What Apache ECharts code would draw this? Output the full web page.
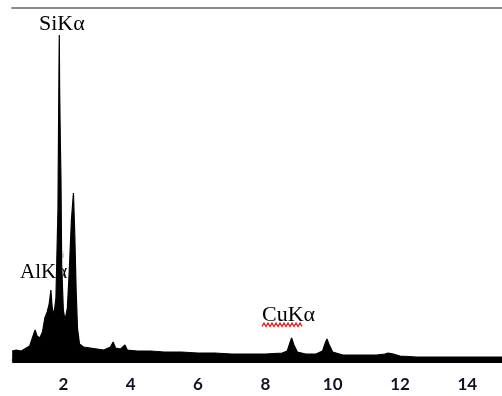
<!DOCTYPE html>
<html>
<head>
<meta charset="utf-8">
<script src="https://cdn.jsdelivr.net/npm/echarts@6/dist/echarts.min.js"></script>
<style>html,body{margin:0;padding:0;background:#fff;}#c{width:502px;height:396px;}</style>
</head>
<body>
<div id="c"></div>
<script>
// Energy (keV) and counts
const energies = [0.48,0.6,0.75,0.9,1.0,1.08,1.16,1.22,1.3,1.38,1.45,1.52,1.58,1.63,1.67,1.72,1.78,1.84,1.87,1.88,1.89,1.91,1.93,1.95,2.0,2.05,2.12,2.18,2.24,2.30,2.34,2.38,2.42,2.48,2.6,2.8,3.0,3.2,3.4,3.48,3.55,3.7,3.83,3.9,4.2,4.6,5.0,5.5,6.0,6.5,7.0,7.5,8.0,8.5,8.65,8.72,8.78,8.85,8.95,9.2,9.5,9.7,9.78,9.83,9.9,10.0,10.3,10.8,11.3,11.55,11.65,11.8,12.0,12.5,13.0,13.5,14.0,14.5,15.03];
const counts   = [9,10,9,12,14,22,30,24,22,28,42,48,56,70,52,45,62,150,290,325,270,220,180,95,50,40,52,92,140,167,125,70,32,16,13,12,11,10,13,18,12,11,15,10,9,9,8,8,7,7,6,6,6,7,9,16,22,15,8,6,6,9,17,21,15,8,5,5,5,6,7,6,4,3,3,3,3,3,3];
const tickLabels = [2,4,6,8,10,12,14];
const peakLabels = ['SiKα','AlKα','CuKα'];

const chart = echarts.init(document.getElementById('c'), null, {renderer:'canvas'});
const squiggle = [];
for (let i = 0; i <= 20; i++) squiggle.push([262 + i*2, i % 2 ? 323 : 326.5]);
chart.setOption({
  animation:false,
  grid:{left:12, right:0, top:8, bottom:33},
  xAxis:[{
    type:'value', min:0.475, max:15.03, position:'bottom',
    axisLine:{show:true, lineStyle:{color:'#c4c4c4', width:2}},
    axisTick:{show:false},
    splitLine:{show:false},
    axisLabel:{customValues:tickLabels, margin:13, fontFamily:'Lato', fontWeight:'bold', fontSize:17, color:'#121226'}
  },{
    type:'value', min:0.475, max:15.03, position:'top',
    axisLine:{show:true, lineStyle:{color:'#8a8a8a', width:2}},
    axisTick:{show:false}, axisLabel:{show:false}, splitLine:{show:false}
  }],
  yAxis:{type:'value', min:-3, max:352, show:false, splitLine:{show:false}},
  series:[{
    type:'line', data:energies.map((e,i)=>[e,counts[i]]),
    symbol:'none', lineStyle:{color:'#000', width:1.2},
    areaStyle:{color:'#000', opacity:1, origin:'start'}
  }],
  graphic:[
    {type:'text', left:39, top:13, style:{text:peakLabels[0], font:'22px "Liberation Serif"', fill:'#000'}},
    {type:'text', left:20, top:262, style:{text:peakLabels[1], font:'21px "Liberation Serif"', fill:'#000'}},
    {type:'text', left:56, top:251, style:{text:'Si', font:'9px "Liberation Sans"', fill:'#8a9aa8'}},
    {type:'text', left:262, top:304, style:{text:peakLabels[2], font:'22px "Liberation Serif"', fill:'#000'}},
    {type:'polyline', shape:{points:squiggle}, style:{stroke:'#e02020', lineWidth:1.3, fill:null}}
  ]
});
</script>
</body>
</html>
